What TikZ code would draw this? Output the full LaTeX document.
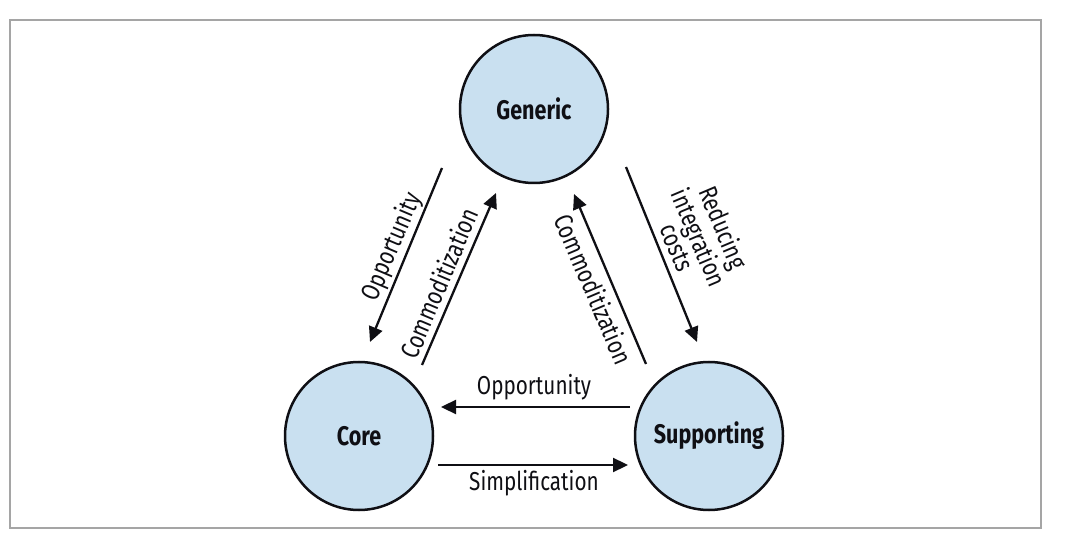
\documentclass[tikz,border=0pt]{standalone}
\usepackage{fontspec}
\setmainfont{Fira Sans}[FakeStretch=0.8]
\usetikzlibrary{arrows.meta}
\definecolor{blobfill}{RGB}{201,224,240}
\definecolor{framegray}{RGB}{165,165,165}
\definecolor{inkc}{RGB}{15,15,20}
\tikzset{
  blob/.style={circle, draw=inkc, line width=2.5bp, fill=blobfill, minimum size=148bp, inner sep=0pt,
    font=\fontsize{27}{29}\selectfont\bfseries, text=inkc},
  arr/.style={draw=inkc, line width=2.3bp, -{Triangle[length=15bp,width=14bp]}},
  lbl/.style={font=\fontsize{26}{27}\selectfont, text=inkc, inner sep=0pt, align=center},
}
\begin{document}
\begin{tikzpicture}[x=1bp,y=-1bp]
\useasboundingbox (0,0) rectangle (1080,543);
\fill[white] (0,0) rectangle (1080,543);
\draw[framegray, line width=1.6bp] (10,20) rectangle (1041,528);

\node[blob] (gen)  at (534,109) {Generic};
\node[blob] (core) at (359,436) {Core};
\node[blob] (sup)  at (709,436) {Supporting};

% horizontal pair
\draw[arr] ([shift={(-79,-29)}]sup.center) -- ([shift={(82,-29)}]core.center);
\draw[arr] ([shift={(79,29)}]core.center) -- ([shift={(-81,29)}]sup.center);
\node[lbl] (l1) at (534,387) {Opportunity};
\node[lbl] (l2) at (534,483) {Simplification};

% left pair
\draw[arr] ([shift={(-92,59)}]gen.center) -- ([shift={(11,-94)}]core.center);
\draw[arr] ([shift={(63,-71)}]core.center) -- ([shift={(-38,84)}]gen.center);
\node[lbl, rotate=67] (l3) at (392,247) {Opportunity};
\node[lbl, rotate=67] (l4) at (439,283) {Commoditization};

% right pair
\draw[arr] ([shift={(-63,-72)}]sup.center) -- ([shift={(40,85)}]gen.center);
\draw[arr] ([shift={(92,58)}]gen.center) -- ([shift={(-12,-94)}]sup.center);
\node[lbl, rotate=-67] (l5) at (594,289) {Commoditization};
\node[lbl, rotate=-67, font=\fontsize{26}{21}\selectfont] (l6) at (701,237) {Reducing\\integration\\costs};
\end{tikzpicture}
\end{document}
